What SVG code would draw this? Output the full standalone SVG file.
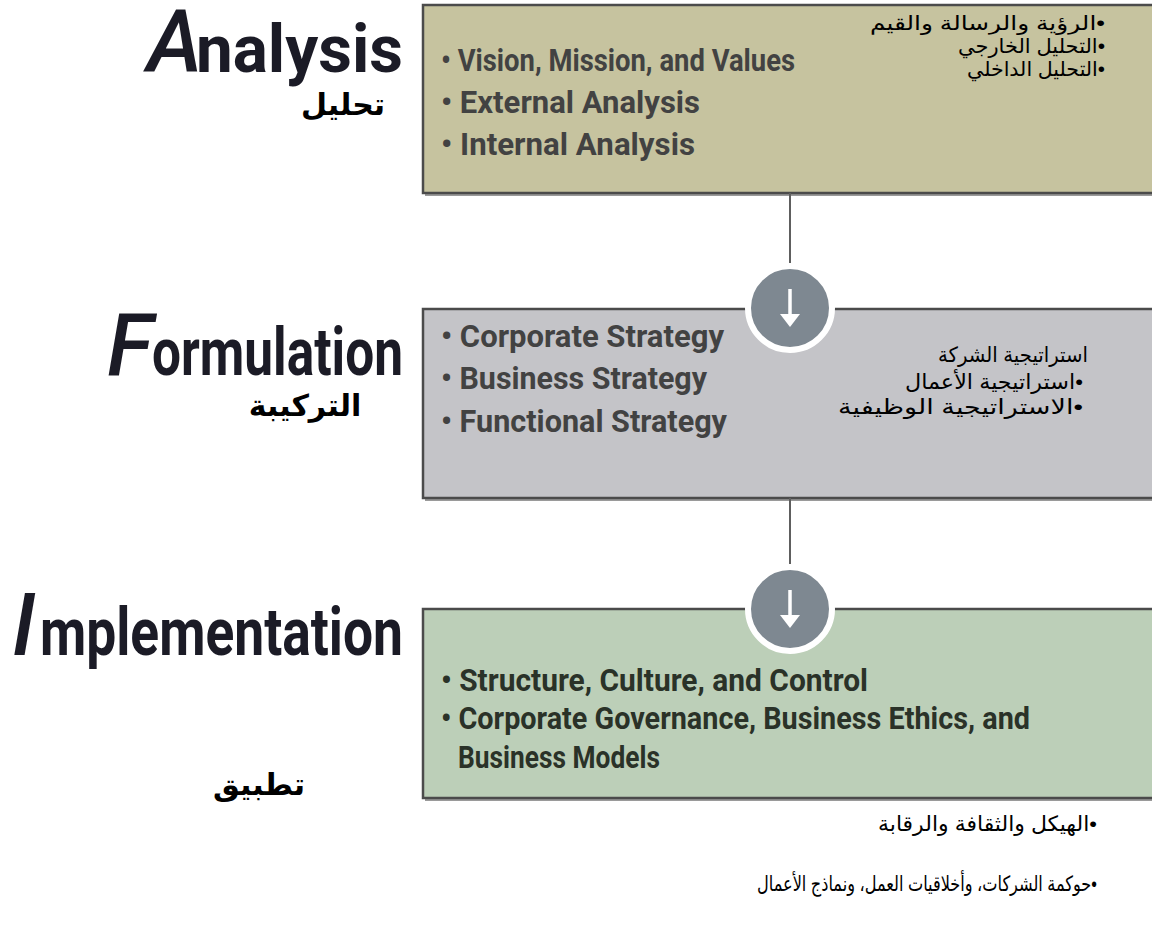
<svg xmlns="http://www.w3.org/2000/svg" width="1152" height="941" viewBox="0 0 1152 941">
  <defs>
    <style>
      .title-init { font-family: Roboto, "Liberation Sans", sans-serif; font-style: italic; font-weight: 500; font-size: 86px; fill: #1b1b26; }
      .title-rest { font-family: Roboto, "Liberation Sans", sans-serif; font-weight: 700; font-size: 66px; fill: #1b1b26; }
      .title-ar { font-family: "Liberation Sans", "DejaVu Sans", sans-serif; font-weight: 700; font-size: 30px; fill: #000; }
      .item { font-family: Roboto, "Liberation Sans", sans-serif; font-weight: 700; font-size: 31px; fill: #424242; }
      .item-dark { fill: #2a3228; }
      .item-ar { font-family: "Liberation Sans", "DejaVu Sans", sans-serif; font-size: 21px; fill: #000; }
      .item-ar-sm { font-size: 20px; }
      .frame { fill: none; stroke: #4b4b4b; stroke-width: 2.5; }
      .shade { fill: none; stroke: #9a9a9a; stroke-width: 2; }
      .link { stroke: #5e5e5e; stroke-width: 2; fill: none; }
      .badge { fill: #7e8891; stroke: #ffffff; stroke-width: 6; }
      .arrow-shaft { stroke: #ffffff; stroke-width: 3.5; }
      .arrow-head { fill: #ffffff; }
    </style>
  </defs>

  <rect width="1152" height="941" fill="#ffffff"/>

  <!-- Stage titles -->
  <g id="title-analysis">
    <text class="title-init" x="147" y="72">A</text>
    <text class="title-rest" x="196" y="72" textLength="207" lengthAdjust="spacingAndGlyphs">nalysis</text>
    <text class="title-ar" x="343" y="115" text-anchor="middle">تحليل</text>
  </g>
  <g id="title-formulation">
    <text class="title-init" x="107" y="375">F</text>
    <text class="title-rest" x="152" y="375" textLength="251" lengthAdjust="spacingAndGlyphs">ormulation</text>
    <text class="title-ar" x="305" y="416" text-anchor="middle">التركيبة</text>
  </g>
  <g id="title-implementation">
    <text class="title-init" x="12" y="655">I</text>
    <text class="title-rest" x="40" y="655" textLength="363" lengthAdjust="spacingAndGlyphs">mplementation</text>
    <text class="title-ar" x="259" y="795" text-anchor="middle">تطبيق</text>
  </g>

  <!-- Analysis box -->
  <g id="node-analysis">
    <rect x="423" y="5" width="729" height="188" fill="#c6c39f"/>
    <path class="shade" d="M425 195 H1152"/>
    <path class="frame" d="M1152 5 H423 V193 H1152"/>
    <text class="item" x="441" y="71" textLength="354" lengthAdjust="spacingAndGlyphs">• Vision, Mission, and Values</text>
    <text class="item" x="441" y="113" textLength="259" lengthAdjust="spacingAndGlyphs">• External Analysis</text>
    <text class="item" x="441" y="155" textLength="254" lengthAdjust="spacingAndGlyphs">• Internal Analysis</text>
    <text class="item-ar item-ar-sm" x="1105" y="30" direction="rtl" text-anchor="start" textLength="235" lengthAdjust="spacingAndGlyphs">•الرؤية والرسالة والقيم</text>
    <text class="item-ar item-ar-sm" x="1105" y="53" direction="rtl" text-anchor="start" textLength="147" lengthAdjust="spacingAndGlyphs">•التحليل الخارجي</text>
    <text class="item-ar item-ar-sm" x="1105" y="76" direction="rtl" text-anchor="start" textLength="138" lengthAdjust="spacingAndGlyphs">•التحليل الداخلي</text>
  </g>

  <!-- Formulation box -->
  <g id="node-formulation">
    <rect x="423" y="309" width="729" height="189" fill="#c4c4c8"/>
    <path class="shade" d="M425 500 H1152"/>
    <path class="frame" d="M1152 309 H423 V498 H1152"/>
    <text class="item" x="441" y="347" textLength="283" lengthAdjust="spacingAndGlyphs">• Corporate Strategy</text>
    <text class="item" x="441" y="389" textLength="266" lengthAdjust="spacingAndGlyphs">• Business Strategy</text>
    <text class="item" x="441" y="432" textLength="286" lengthAdjust="spacingAndGlyphs">• Functional Strategy</text>
    <text class="item-ar" x="1088" y="362" direction="rtl" text-anchor="start" textLength="150" lengthAdjust="spacingAndGlyphs">استراتيجية الشركة</text>
    <text class="item-ar" x="1083" y="389" direction="rtl" text-anchor="start" textLength="178" lengthAdjust="spacingAndGlyphs">•استراتيجية الأعمال</text>
    <text class="item-ar" x="1083" y="414" direction="rtl" text-anchor="start" textLength="245" lengthAdjust="spacingAndGlyphs">•الاستراتيجية الوظيفية</text>
  </g>

  <!-- Implementation box -->
  <g id="node-implementation">
    <rect x="423" y="609" width="729" height="189" fill="#bccfb8"/>
    <path class="shade" d="M425 800 H1152"/>
    <path class="frame" d="M1152 609 H423 V798 H1152"/>
    <text class="item item-dark" x="441" y="691" textLength="427" lengthAdjust="spacingAndGlyphs">• Structure, Culture, and Control</text>
    <text class="item item-dark" x="441" y="729" textLength="589" lengthAdjust="spacingAndGlyphs">• Corporate Governance, Business Ethics, and</text>
    <text class="item item-dark" x="458" y="768" textLength="202" lengthAdjust="spacingAndGlyphs">Business Models</text>
  </g>

  <!-- Implementation notes below the box -->
  <g id="notes-implementation">
    <text class="item-ar" x="1097" y="831" direction="rtl" text-anchor="start" textLength="219" lengthAdjust="spacingAndGlyphs">•الهيكل والثقافة والرقابة</text>
    <text class="item-ar" x="1097" y="891" direction="rtl" text-anchor="start" font-size="19" textLength="340" lengthAdjust="spacingAndGlyphs">•حوكمة الشركات، وأخلاقيات العمل، ونماذج الأعمال</text>
  </g>

  <!-- Connectors with step badges -->
  <g id="connectors">
    <line class="link" x1="790" y1="193" x2="790" y2="266"/>
    <circle class="badge" cx="790" cy="308" r="42"/>
    <line class="arrow-shaft" x1="790" y1="289" x2="790" y2="317"/>
    <polygon class="arrow-head" points="780,314 800,314 790,327"/>

    <line class="link" x1="790" y1="498" x2="790" y2="567"/>
    <circle class="badge" cx="790" cy="609" r="42"/>
    <line class="arrow-shaft" x1="790" y1="590" x2="790" y2="618"/>
    <polygon class="arrow-head" points="780,615 800,615 790,628"/>
  </g>
</svg>
